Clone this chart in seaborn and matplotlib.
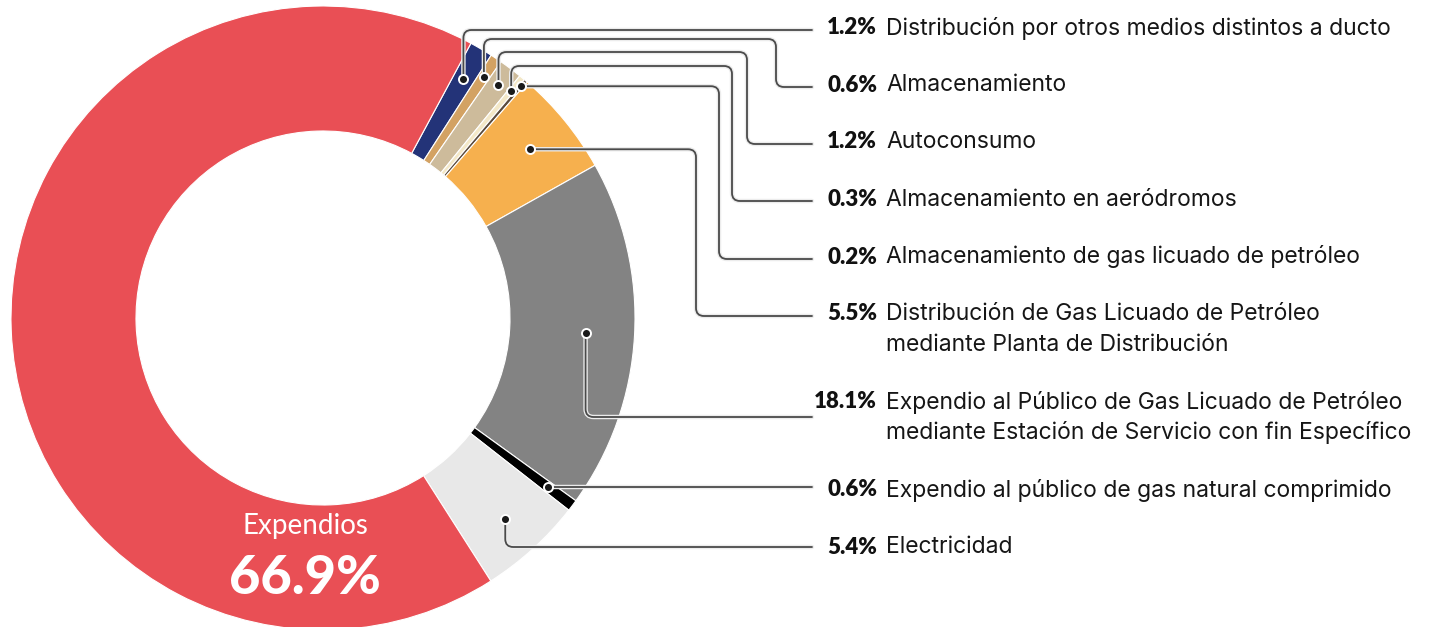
import numpy as np
import matplotlib
matplotlib.use("Agg")
import matplotlib.pyplot as plt
from matplotlib.path import Path
from matplotlib.patches import PathPatch
import matplotlib.patheffects as pe
import seaborn as sns

# --- data -----------------------------------------------------------------
categories = [
    "Distribución por otros medios distintos a ducto",
    "Almacenamiento",
    "Autoconsumo",
    "Almacenamiento en aeródromos",
    "Almacenamiento de gas licuado de petróleo",
    "Distribución de Gas Licuado de Petróleo\nmediante Planta de Distribución",
    "Expendio al Público de Gas Licuado de Petróleo\nmediante Estación de Servicio con fin Específico",
    "Expendio al público de gas natural comprimido",
    "Electricidad",
    "Expendios",
]
shares = [1.2, 0.6, 1.2, 0.3, 0.2, 5.5, 18.1, 0.6, 5.4, 66.9]
slice_colors = ["#233378", "#D3A263", "#CDBB9B", "#F3E8C8", "#5B4B3D",
                "#F6B04E", "#838383", "#000000", "#E8E8E8", "#E94F55"]

# --- style ----------------------------------------------------------------
sns.set_theme(style="white")
plt.rcParams["font.family"] = ["Inter", "DejaVu Sans"]
palette = sns.color_palette(slice_colors)

W, H = 1435, 627
fig = plt.figure(figsize=(W / 100, H / 100), dpi=100)
ax = fig.add_axes([0, 0, 1, 1])

def Y(y_px):
    """Convert a top-down pixel row into the upward data axis."""
    return H - y_px

cx, cy = 323, Y(318)
R, ring = 312, 125

wedges, _ = ax.pie(
    shares, colors=palette, startangle=61.7, counterclock=False,
    radius=R, center=(cx, cy),
    wedgeprops=dict(width=ring, edgecolor="white", linewidth=0.8),
)
ax.set_xlim(0, W)
ax.set_ylim(0, H)
ax.set_aspect("equal")
ax.axis("off")

# --- leader lines ---------------------------------------------------------
def rounded(points, rad=8.0):
    verts = [points[0]]
    codes = [Path.MOVETO]
    for i in range(1, len(points) - 1):
        p0, p1, p2 = (np.asarray(p, float) for p in points[i - 1:i + 2])
        d1, d2 = p1 - p0, p2 - p1
        l1, l2 = np.linalg.norm(d1), np.linalg.norm(d2)
        if l1 < 1e-6 or l2 < 1e-6:
            continue
        r = min(rad, l1 / 2, l2 / 2)
        a = p1 - d1 / l1 * r
        b = p1 + d2 / l2 * r
        verts += [tuple(a), tuple(p1), tuple(b)]
        codes += [Path.LINETO, Path.CURVE3, Path.CURVE3]
    verts.append(tuple(points[-1]))
    codes.append(Path.LINETO)
    return Path(verts, codes)

x_line_end = 812
x_pct = 877
x_text = 886
# per slice: anchor radius, route, level row, elbow column, line row, text row
leaders = [
    (277, "up",    30,  None, 30,  28),
    (290, "up",    39,  776,  87,  85),
    (292, "up",    52,  747,  144, 142),
    (295, "up",    66,  732,  201, 200),
    (305, "right", None, 719, 259, 257),
    (267, "right", None, 696, 316, 314),
    (263, "down",  None, None, 417, 402),
    (282, "right", None, None, 490, 490),
    (271, "down",  None, None, 547, 547),
]

halo = [pe.withStroke(linewidth=3.2, foreground="#ececec")]
for w, share, name, (r_anchor, route, level, elbow, line_row, text_row) in zip(
        wedges[:-1], shares[:-1], categories[:-1], leaders):
    th = np.deg2rad((w.theta1 + w.theta2) / 2)
    dx, dy = cx + r_anchor * np.cos(th), cy + r_anchor * np.sin(th)
    pts = [(dx, dy)]
    if route == "up":
        pts.append((dx, Y(level)))
        if elbow is not None:
            pts += [(elbow, Y(level)), (elbow, Y(line_row))]
        pts.append((x_line_end, Y(line_row)))
    elif route == "right":
        if elbow is not None:
            pts += [(elbow, dy), (elbow, Y(line_row)), (x_line_end, Y(line_row))]
        else:
            pts.append((x_line_end, dy))
    else:
        pts += [(dx, Y(line_row)), (x_line_end, Y(line_row))]
    ax.add_patch(PathPatch(rounded(pts), facecolor="none", edgecolor="#4a4a4a",
                           linewidth=1.3, path_effects=halo, zorder=4,
                           capstyle="round", joinstyle="round"))
    ax.plot(dx, dy, "o", ms=6.5, mfc="#1a1a1a", mec="white", mew=1.4, zorder=5)

    ax.text(x_pct, Y(text_row), f"{share:.1f}%", ha="right", va="center",
            family=["Lato", "DejaVu Sans"], fontweight="heavy", fontsize=16,
            color="#111111")
    for k, line in enumerate(name.split("\n")):
        ax.text(x_text, Y(text_row + 31 * k), line, ha="left", va="center",
                fontsize=16.5, color="#161616")

# --- main slice label -----------------------------------------------------
ax.text(305, Y(526), categories[-1], ha="center", va="center", color="white",
        family=["Lato", "DejaVu Sans"], fontsize=20)
ax.text(305, Y(578), f"{shares[-1]:.1f}%", ha="center", va="center",
        color="white", family=["Lato", "DejaVu Sans"], fontweight="black",
        fontsize=39)

fig.savefig("out.png", dpi=100, facecolor="white")
